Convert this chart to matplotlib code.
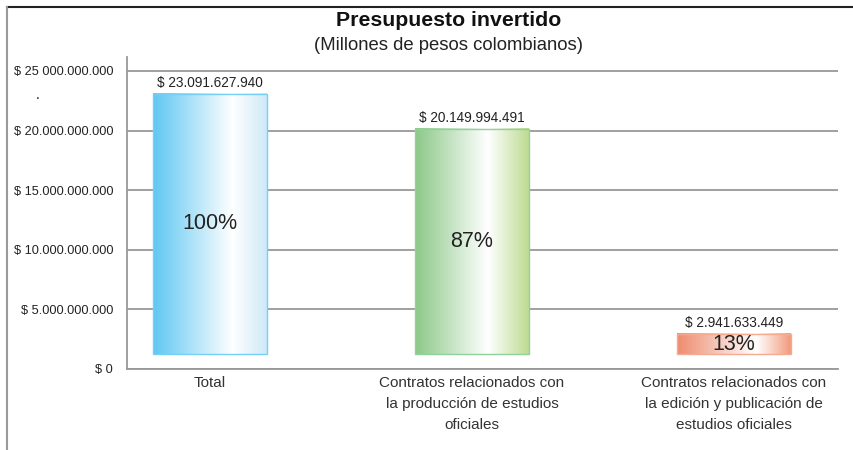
import numpy as np
import matplotlib
matplotlib.use("Agg")
import matplotlib.pyplot as plt
from matplotlib.colors import LinearSegmentedColormap
from matplotlib.lines import Line2D

plt.rcParams['font.family'] = ['Liberation Sans', 'DejaVu Sans']

# data
categories = ["Total",
              "Contratos relacionados con\nla producción de estudios\noficiales",
              "Contratos relacionados con\nla edición y publicación de\nestudios oficiales"]
values = [23091627940, 20149994491, 2941633449]
value_labels = ["$ 23.091.627.940", "$ 20.149.994.491", "$ 2.941.633.449"]
pct_labels = ["100%", "87%", "13%"]
yticks = [0, 5e9, 10e9, 15e9, 20e9, 25e9]
ytick_labels = ["$ 0", "$ 5.000.000.000", "$ 10.000.000.000",
                "$ 15.000.000.000", "$ 20.000.000.000", "$ 25 000.000.000"]

# gradient stops per bar: left colour, white point, right colour, edge colour
grads = [("#5fc7f2", 0.70, "#cfe9f7", "#74d1f5"),
         ("#8cc888", 0.64, "#bddb92", "#8fd29c"),
         ("#ee8c70", 0.70, "#f29a7c", "#f5ab92")]
base = 1.25e9  # bars float a little above the axis in the original

fig = plt.figure(figsize=(8.54, 4.5), dpi=100)
ax = fig.add_axes([127/854, 1 - 369/450, (838-127)/854, (369-57)/450])

x = np.arange(len(categories))
bars = ax.bar(x, [v - base for v in values], bottom=base, width=0.435,
              facecolor="none", edgecolor="none", zorder=3)

for b, (c0, wp, c1, ec) in zip(bars, grads):
    cmap = LinearSegmentedColormap.from_list("g", [(0, c0), (wp, "#ffffff"), (1, c1)])
    grad = np.linspace(0, 1, 256).reshape(1, -1)
    x0, y0, w, h = b.get_x(), b.get_y(), b.get_width(), b.get_height()
    ax.imshow(grad, cmap=cmap, aspect="auto", extent=[x0, x0 + w, y0, y0 + h],
              zorder=3, interpolation="bicubic")
    b.set_edgecolor(ec)
    b.set_linewidth(1.0)
    b.set_zorder(4)

for b, v, vl, pl in zip(bars, values, value_labels, pct_labels):
    cx = b.get_x() + b.get_width() / 2
    ax.annotate(vl, (cx, v), xytext=(0, 3), textcoords="offset points",
                ha="center", va="bottom", fontsize=9.8, color="#222222", zorder=5)
    ax.text(cx, b.get_y() + b.get_height() / 2, pl, ha="center", va="center",
            fontsize=15.5, color="#222222", zorder=5)

ax.set_xlim(-0.317, 2.397)
ax.set_ylim(0, 26.17e9)
ax.set_yticks(yticks)
ax.set_yticklabels(ytick_labels, fontsize=9.2, color="#222222")
ax.set_xticks(x)
ax.set_xticklabels(categories, fontsize=11, color="#333333", linespacing=1.65, va="top")
ax.tick_params(axis="both", length=0)
ax.tick_params(axis="y", pad=10)
ax.tick_params(axis="x", pad=5)

ax.grid(axis="y", color="#999999", linewidth=1.3, zorder=1)
ax.set_axisbelow(True)
for s in ["top", "right"]:
    ax.spines[s].set_visible(False)
for s in ["left", "bottom"]:
    ax.spines[s].set_color("#999999")
    ax.spines[s].set_linewidth(1.3)

fig.text(449/854, 1 - 20/450, "Presupuesto invertido", ha="center", va="center",
         fontsize=15.3, fontweight="bold", color="#111111")
fig.text(449/854, 1 - 46/450, "(Millones de pesos colombianos)", ha="center", va="center",
         fontsize=13.3, color="#222222")
fig.text(38/854, 1 - 95/450, ".", ha="center", va="center", fontsize=10, color="#111111")

# outer frame lines
fig.add_artist(Line2D([7/854, 852/854], [1 - 7/450, 1 - 7/450], color="#222222", lw=1.5))
fig.add_artist(Line2D([7/854, 7/854], [1 - 7/450, 0], color="#999999", lw=1.5))

fig.savefig("out.png", dpi=100)
